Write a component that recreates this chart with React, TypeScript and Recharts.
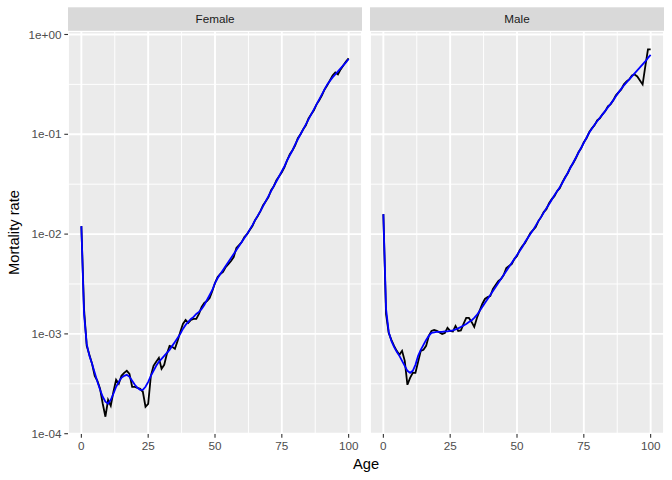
import React from 'react';
import {
  LineChart,
  Line,
  XAxis,
  YAxis,
  CartesianGrid,
  ReferenceLine,
} from 'recharts';

// ages 0..100 (one point per year of age)
const AGES = Array.from({ length: 101 }, (_, i) => i);

// log10(mortality rate)
const FEMALE_OBS = [
  -1.92, -2.75, -3.12, -3.21, -3.30, -3.42, -3.47, -3.55, -3.70, -3.83,
  -3.66, -3.72, -3.58, -3.46, -3.50, -3.42, -3.39, -3.37, -3.40, -3.53,
  -3.53, -3.54, -3.55, -3.58, -3.73, -3.70, -3.42, -3.32, -3.28, -3.24,
  -3.35, -3.31, -3.20, -3.12, -3.13, -3.15, -3.07, -2.98, -2.90, -2.86,
  -2.89, -2.86, -2.85, -2.85, -2.80, -2.73, -2.69, -2.67, -2.64, -2.57,
  -2.49, -2.43, -2.40, -2.38, -2.33, -2.30, -2.27, -2.23, -2.14, -2.11,
  -2.08, -2.03, -2.00, -1.96, -1.92, -1.86, -1.82, -1.77, -1.71, -1.67,
  -1.63, -1.56, -1.52, -1.46, -1.42, -1.38, -1.33, -1.26, -1.20, -1.16,
  -1.11, -1.04, -1.00, -0.95, -0.91, -0.84, -0.80, -0.76, -0.70, -0.66,
  -0.61, -0.55, -0.51, -0.46, -0.41, -0.38, -0.40, -0.35, -0.31, -0.27,
  -0.24,
];

const FEMALE_FIT = [
  -1.92, -2.80, -3.10, -3.22, -3.30, -3.39, -3.48, -3.56, -3.63, -3.68,
  -3.70, -3.66, -3.60, -3.53, -3.48, -3.44, -3.42, -3.41, -3.43, -3.47,
  -3.51, -3.54, -3.56, -3.56, -3.53, -3.48, -3.42, -3.37, -3.32, -3.28,
  -3.25, -3.22, -3.19, -3.16, -3.12, -3.08, -3.04, -3.00, -2.95, -2.91,
  -2.88, -2.85, -2.83, -2.80, -2.78, -2.75, -2.71, -2.66, -2.61, -2.56,
  -2.49, -2.44, -2.40, -2.36, -2.32, -2.28, -2.24, -2.20, -2.16, -2.12,
  -2.08, -2.04, -2.00, -1.955, -1.91, -1.86, -1.815, -1.77, -1.72, -1.67,
  -1.62, -1.57, -1.52, -1.47, -1.42, -1.37, -1.32, -1.26, -1.21, -1.16,
  -1.10, -1.05, -1.00, -0.95, -0.90, -0.85, -0.80, -0.75, -0.70, -0.65,
  -0.60, -0.55, -0.50, -0.465, -0.43, -0.40, -0.37, -0.34, -0.31, -0.28,
  -0.245,
];

const MALE_OBS = [
  -1.80, -2.80, -2.99, -3.06, -3.12, -3.17, -3.21, -3.17, -3.27, -3.51,
  -3.44, -3.39, -3.39, -3.28, -3.17, -3.16, -3.12, -3.02, -2.97, -2.96,
  -2.97, -2.985, -3.00, -2.99, -2.94, -2.97, -2.975, -2.92, -2.97, -2.965,
  -2.90, -2.84, -2.84, -2.88, -2.93, -2.84, -2.77, -2.70, -2.65, -2.63,
  -2.62, -2.55, -2.51, -2.47, -2.45, -2.41, -2.34, -2.32, -2.30, -2.25,
  -2.22, -2.16, -2.12, -2.09, -2.04, -1.99, -1.96, -1.93, -1.87, -1.83,
  -1.78, -1.75, -1.69, -1.65, -1.62, -1.57, -1.54, -1.48, -1.43, -1.39,
  -1.33, -1.29, -1.24, -1.18, -1.14, -1.08, -1.04, -0.98, -0.94, -0.91,
  -0.86, -0.84, -0.80, -0.77, -0.72, -0.70, -0.66, -0.61, -0.58, -0.55,
  -0.50, -0.47, -0.45, -0.41, -0.40, -0.42, -0.46, -0.50, -0.32, -0.15,
  -0.15,
];

const MALE_FIT = [
  -1.80, -2.75, -2.98, -3.07, -3.13, -3.18, -3.22, -3.27, -3.32, -3.37,
  -3.39, -3.37, -3.31, -3.22, -3.16, -3.11, -3.06, -3.02, -2.99, -2.985,
  -2.98, -2.98, -2.98, -2.975, -2.975, -2.97, -2.965, -2.955, -2.945, -2.93,
  -2.915, -2.90, -2.88, -2.865, -2.84, -2.81, -2.77, -2.73, -2.69, -2.65,
  -2.61, -2.57, -2.53, -2.49, -2.45, -2.41, -2.37, -2.33, -2.29, -2.25,
  -2.21, -2.17, -2.13, -2.08, -2.04, -2.00, -1.96, -1.915, -1.87, -1.83,
  -1.785, -1.74, -1.70, -1.655, -1.61, -1.57, -1.53, -1.485, -1.435, -1.385,
  -1.335, -1.285, -1.235, -1.185, -1.135, -1.085, -1.035, -0.985, -0.945, -0.905,
  -0.87, -0.835, -0.80, -0.765, -0.73, -0.695, -0.66, -0.62, -0.58, -0.545,
  -0.51, -0.48, -0.45, -0.42, -0.39, -0.36, -0.33, -0.30, -0.27, -0.235,
  -0.205,
];

const X_TICKS = [0, 25, 50, 75, 100];
const X_MINOR = [12.5, 37.5, 62.5, 87.5];
const Y_TICKS = [-4, -3, -2, -1, 0];
const Y_MINOR = [-3.5, -2.5, -1.5, -0.5];

const FONT = '"Liberation Sans", Arial, Helvetica, sans-serif';
const TICK_STYLE = { fill: '#4D4D4D', fontSize: 11.7, fontFamily: FONT };

const fmtExp = (v: number) => {
  const n = Math.round(Math.abs(v));
  return `1e${v < 0 ? '-' : '+'}${n < 10 ? '0' : ''}${n}`;
};

const makeRows = (obs: number[], fit: number[]) =>
  AGES.map((age, i) => ({ age, obs: obs[i], fit: fit[i] }));

const FEMALE_ROWS = makeRows(FEMALE_OBS, FEMALE_FIT);
const MALE_ROWS = makeRows(MALE_OBS, MALE_FIT);

function Panel({
  rows,
  left,
  width,
  showY,
}: {
  rows: { age: number; obs: number; fit: number }[];
  left: number;
  width: number;
  showY: boolean;
}) {
  return (
    <div style={{ position: 'absolute', left, top: 0 }}>
      <LineChart
        width={width}
        height={480}
        data={rows}
        margin={{ top: 31, right: 0, bottom: 0, left: 0 }}
      >
        <CartesianGrid fill="#EBEBEB" stroke="#FFFFFF" strokeWidth={1.9} />
        {X_MINOR.map((x) => (
          <ReferenceLine key={`x${x}`} x={x} stroke="#FFFFFF" strokeWidth={0.95} />
        ))}
        {Y_MINOR.map((y) => (
          <ReferenceLine key={`y${y}`} y={y} stroke="#FFFFFF" strokeWidth={0.95} />
        ))}
        <XAxis
          dataKey="age"
          type="number"
          domain={[-5, 105]}
          ticks={X_TICKS}
          allowDataOverflow
          height={46}
          tick={TICK_STYLE}
          tickSize={3.7}
          tickMargin={3.5}
          axisLine={false}
          tickLine={{ stroke: '#333333', strokeWidth: 1.1 }}
        />
        <YAxis
          type="number"
          domain={[-4.003, 0.035]}
          ticks={Y_TICKS}
          allowDataOverflow
          hide={!showY}
          width={68}
          tick={TICK_STYLE}
          tickFormatter={fmtExp}
          tickSize={3.7}
          tickMargin={2.9}
          axisLine={false}
          tickLine={{ stroke: '#333333', strokeWidth: 1.1 }}
        />
        <Line
          type="linear"
          dataKey="obs"
          stroke="#000000"
          strokeWidth={1.8}
          dot={false}
          isAnimationActive={false}
        />
        <Line
          type="linear"
          dataKey="fit"
          stroke="#0000FF"
          strokeWidth={1.8}
          dot={false}
          isAnimationActive={false}
        />
      </LineChart>
    </div>
  );
}

export default function App() {
  return (
    <div
      style={{
        position: 'absolute',
        left: 0,
        top: 0,
        width: 672,
        height: 480,
        background: '#FFFFFF',
        fontFamily: FONT,
      }}
    >
      <Panel rows={FEMALE_ROWS} left={0} width={362} showY />
      <Panel rows={MALE_ROWS} left={370} width={294} showY={false} />
      <svg
        width={672}
        height={480}
        style={{ position: 'absolute', left: 0, top: 0, pointerEvents: 'none' }}
      >
        <rect x={68} y={7.3} width={294} height={23.5} fill="#D9D9D9" />
        <rect x={370} y={7.3} width={294} height={23.5} fill="#D9D9D9" />
        <text x={215} y={23} textAnchor="middle" fontSize={11.7} fill="#1A1A1A" fontFamily={FONT}>
          Female
        </text>
        <text x={517} y={23} textAnchor="middle" fontSize={11.7} fill="#1A1A1A" fontFamily={FONT}>
          Male
        </text>
        <text x={366} y={469} textAnchor="middle" fontSize={14.7} fill="#000000" fontFamily={FONT}>
          Age
        </text>
        <text
          x={0}
          y={0}
          transform="translate(19 232.5) rotate(-90)"
          textAnchor="middle"
          fontSize={14.7}
          fill="#000000"
          fontFamily={FONT}
        >
          Mortality rate
        </text>
      </svg>
    </div>
  );
}
